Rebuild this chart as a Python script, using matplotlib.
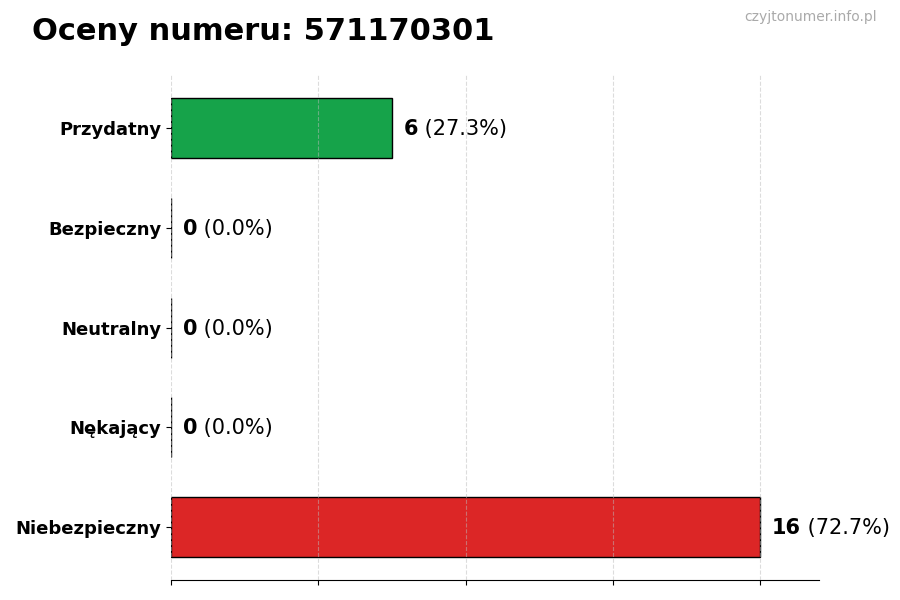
import matplotlib
matplotlib.use("Agg")
import matplotlib.pyplot as plt

categories = ["Przydatny", "Bezpieczny", "Neutralny", "Nękający", "Niebezpieczny"]
values = [6, 0, 0, 0, 16]
colors = ["#16a34a", "#9ca3af", "#f59e0b", "#f97316", "#dc2626"]
title = "Oceny numeru: 571170301"
watermark = "czyjtonumer.info.pl"

total = sum(values)

fig = plt.figure(figsize=(9, 6), dpi=100)
ax = fig.add_axes([0.19, 0.033, 0.72, 0.842])

ypos = list(range(len(categories)))
ax.barh(ypos, values, height=0.6, color=colors, edgecolor="black", linewidth=1.0, zorder=2)
ax.invert_yaxis()
ax.set_yticks(ypos)
ax.set_yticklabels(categories, fontsize=13, fontweight="bold")
ax.set_xlim(0, max(values) * 1.1)
ax.set_xticks([0, 4, 8, 12, 16])
ax.set_xticklabels([])
ax.grid(axis="x", linestyle="--", color="#bbbbbb", alpha=0.5, linewidth=0.8, zorder=3)
ax.set_axisbelow(False)
for s in ["top", "right", "left"]:
    ax.spines[s].set_visible(False)

for y, v in zip(ypos, values):
    pct = 100.0 * v / total if total else 0
    t1 = ax.annotate(f"{v}", xy=(v, y), xytext=(8.5, -0.7), textcoords="offset points",
                     ha="left", va="center", fontsize=15, fontweight="bold", zorder=5)
    ax.annotate(f" ({pct:.1f}%)", xy=(1, 0.5), xycoords=t1, ha="left", va="center",
                fontsize=15, zorder=5)

fig.text(0.036, 0.948, title, fontsize=22, fontweight="bold", ha="left", va="center")
fig.text(0.974, 0.971, watermark, fontsize=10, color="#aaaaaa", ha="right", va="center")

fig.savefig("out.png", dpi=100)
